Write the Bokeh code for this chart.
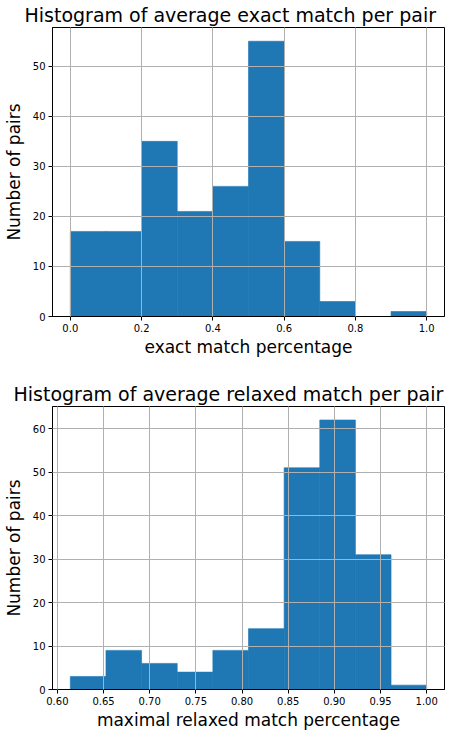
import numpy as np
from bokeh.plotting import figure
from bokeh.layouts import column
from bokeh.models import FixedTicker, PrintfTickFormatter, Range1d
from bokeh.embed import file_html
from bokeh.resources import INLINE

# ---- data: top histogram (exact match) ----
exact_edges = [0.0, 0.1, 0.2, 0.3, 0.4, 0.5, 0.6, 0.7, 0.8, 0.9, 1.0]
exact_counts = [17, 17, 35, 21, 26, 55, 15, 3, 0, 1]
exact_xticks = [0.0, 0.2, 0.4, 0.6, 0.8, 1.0]
exact_yticks = [0, 10, 20, 30, 40, 50]

# ---- data: bottom histogram (relaxed match) ----
relaxed_min = 0.614
relaxed_max = 1.0
relaxed_counts = [3, 9, 6, 4, 9, 14, 51, 62, 31, 1]
relaxed_edges = list(np.linspace(relaxed_min, relaxed_max, len(relaxed_counts) + 1))
relaxed_xticks = [0.60, 0.65, 0.70, 0.75, 0.80, 0.85, 0.90, 0.95, 1.00]
relaxed_yticks = [0, 10, 20, 30, 40, 50, 60]

FONT = "DejaVu Sans"
BAR = "#1f77b4"


def make_hist(title, xlabel, edges, counts, xticks, yticks, fmt, height,
              top_border, bottom_border, title_offset):
    lo, hi = edges[0], edges[-1]
    pad = (hi - lo) * 0.05
    ymax = max(counts) * 1.05
    p = figure(width=456, height=height, output_backend="svg", toolbar_location=None,
               x_range=Range1d(lo - pad, hi + pad), y_range=Range1d(0, ymax),
               min_border_left=44, min_border_right=12,
               min_border_top=top_border, min_border_bottom=bottom_border)
    p.quad(left=edges[:-1], right=edges[1:], bottom=0, top=counts,
           fill_color=BAR, line_color=BAR, line_width=0.6)
    p.title.text = title
    p.title.text_font = FONT
    p.title.text_font_size = "19px"
    p.title.text_font_style = "normal"
    p.title.text_color = "black"
    p.title.align = "left"
    p.title.offset = title_offset
    p.title.standoff = 3
    p.outline_line_color = "black"
    p.outline_line_alpha = 1.0
    p.outline_line_width = 1
    p.background_fill_color = "white"
    p.border_fill_color = "white"
    for ax in (p.xaxis[0], p.yaxis[0]):
        ax.axis_line_color = "black"
        ax.major_tick_line_color = "black"
        ax.minor_tick_line_color = None
        ax.major_tick_in = 0
        ax.major_tick_out = 4
        ax.major_label_text_font = FONT
        ax.major_label_text_font_size = "10px"
        ax.major_label_text_color = "black"
        ax.axis_label_text_font = FONT
        ax.axis_label_text_font_size = "17px"
        ax.axis_label_text_font_style = "normal"
        ax.axis_label_text_color = "black"
    p.xaxis.axis_label = xlabel
    p.yaxis.axis_label = "Number of pairs"
    p.xaxis.ticker = FixedTicker(ticks=xticks)
    p.yaxis.ticker = FixedTicker(ticks=yticks)
    p.xaxis.formatter = PrintfTickFormatter(format=fmt)
    p.xaxis.major_label_standoff = 3
    p.yaxis.major_label_standoff = 3
    p.xaxis.axis_label_standoff = 2
    p.yaxis.axis_label_standoff = 6
    for g in (p.xgrid[0], p.ygrid[0]):
        g.level = "annotation"
        g.grid_line_color = "#b0b0b0"
        g.grid_line_width = 1
        g.grid_line_alpha = 1.0
    p.xgrid.ticker = FixedTicker(ticks=xticks)
    p.ygrid.ticker = FixedTicker(ticks=yticks)
    return p


p1 = make_hist("Histogram of average exact match per pair", "exact match percentage",
               exact_edges, exact_counts, exact_xticks, exact_yticks, "%.1f",
               360, 20, 44, -28)
p2 = make_hist("Histogram of average relaxed match per pair", "maximal relaxed match percentage",
               relaxed_edges, relaxed_counts, relaxed_xticks, relaxed_yticks, "%.2f",
               372, 46, 40, -39)

p = column(p1, p2)
open("out.html", "w").write(file_html(p, INLINE))
